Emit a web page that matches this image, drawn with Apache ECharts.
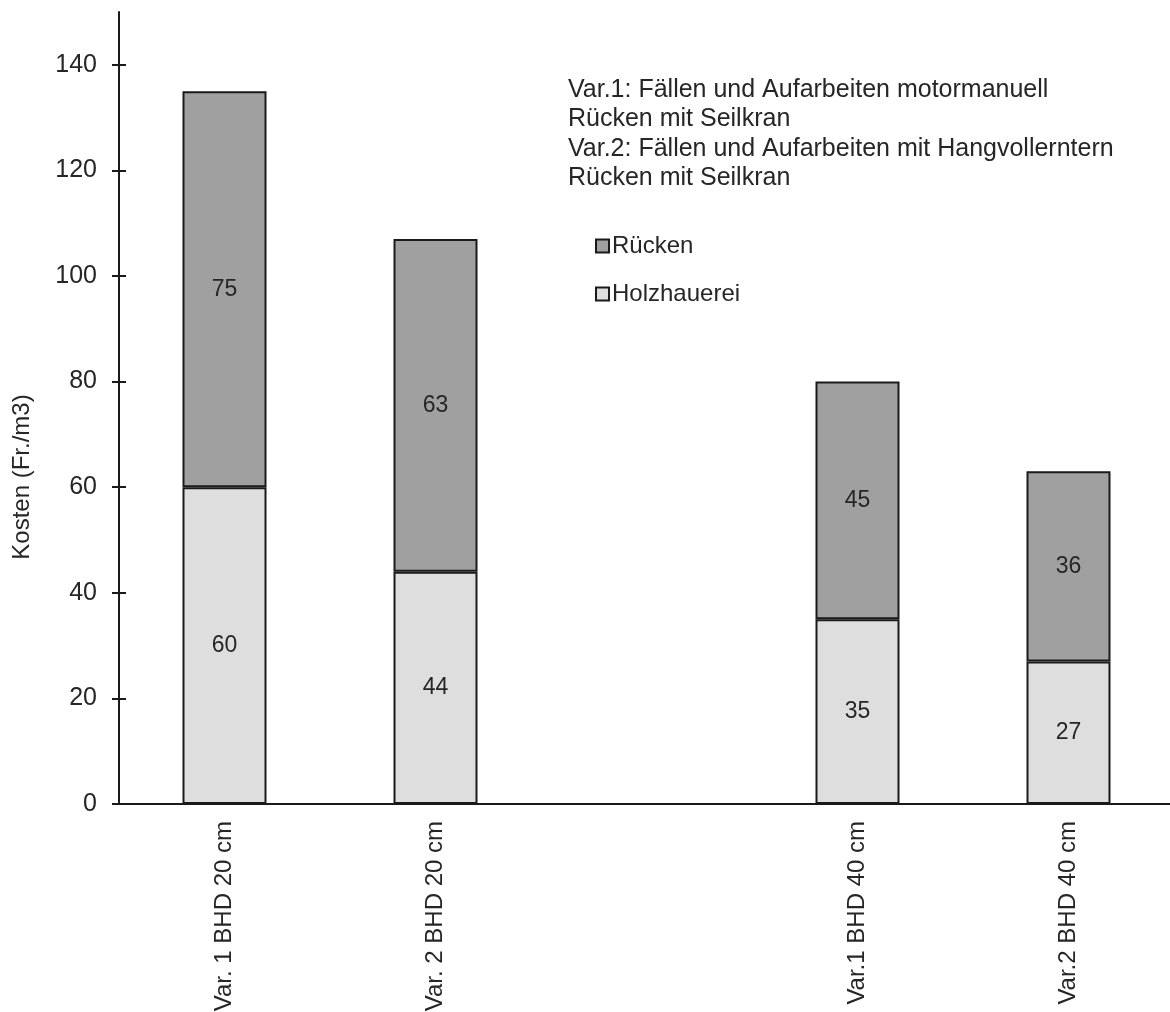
<!DOCTYPE html>
<html>
<head>
<meta charset="utf-8">
<script src="https://cdn.jsdelivr.net/npm/echarts@6/dist/echarts.min.js"></script>
<style>
  html, body { margin: 0; padding: 0; background: #ffffff; }
  #chart { width: 1170px; height: 1012px; }
</style>
</head>
<body>
<div id="chart"></div>
<script>
// Categories (the empty slot separates the 20 cm and 40 cm groups)
const categories = ['Var. 1 BHD 20 cm', 'Var. 2 BHD 20 cm', '', 'Var.1 BHD 40 cm', 'Var.2 BHD 40 cm'];
// Costs in Fr./m3
const holzhauerei = [60, 44, null, 35, 27];
const ruecken = [75, 63, null, 45, 36];
const yTicks = [0, 20, 40, 60, 80, 100, 120, 140];
const noteLines = [
  'Var.1: Fällen und Aufarbeiten motormanuell',
  'Rücken mit Seilkran',
  'Var.2: Fällen und Aufarbeiten mit Hangvollerntern',
  'Rücken mit Seilkran'
];

const FONT = '"Liberation Sans", Arial, sans-serif';
const INK = '#262626';

const chart = echarts.init(document.getElementById('chart'), null, { renderer: 'canvas' });

const barLabel = {
  show: true,
  position: 'inside',
  fontFamily: FONT,
  fontSize: 23,
  color: INK,
  formatter: p => p.value
};

chart.setOption({
  animation: false,
  backgroundColor: '#ffffff',
  grid: { left: 119, right: -4, top: 12, bottom: 208, containLabel: false, outerBoundsMode: 'none' },
  legend: {
    orient: 'vertical',
    left: 590,
    top: 229,
    itemWidth: 13,
    itemHeight: 13,
    itemGap: 24,
    icon: 'rect',
    selectedMode: false,
    textStyle: { fontFamily: FONT, fontSize: 24, color: INK, padding: [0, 0, 0, -2] },
    data: [
      { name: 'Rücken', itemStyle: { color: '#a0a0a0', borderColor: '#1a1a1a', borderWidth: 2 } },
      { name: 'Holzhauerei', itemStyle: { color: '#dedede', borderColor: '#1a1a1a', borderWidth: 2 } }
    ]
  },
  xAxis: {
    type: 'category',
    data: categories,
    axisLine: { show: true, onZero: false, lineStyle: { color: '#1a1a1a', width: 2 } },
    axisTick: { show: false },
    axisLabel: {
      rotate: 90,
      interval: 0,
      margin: 17,
      fontFamily: FONT,
      fontSize: 24,
      color: INK
    },
    splitLine: { show: false }
  },
  yAxis: [
    {
      type: 'value',
      min: 0,
      max: 150,
      interval: 20,
      axisLine: { show: true, lineStyle: { color: '#1a1a1a', width: 2 } },
      axisTick: { show: true, length: 7, customValues: yTicks, lineStyle: { color: '#1a1a1a', width: 2 } },
      axisLabel: {
        customValues: yTicks,
        margin: 22,
        fontFamily: FONT,
        fontSize: 25,
        color: INK
      },
      splitLine: { show: false }
    },
    {
      // inner half of the crossing tick marks
      type: 'value',
      position: 'left',
      min: 0,
      max: 150,
      interval: 20,
      axisLine: { show: false },
      axisTick: { show: true, inside: true, length: 7, customValues: yTicks, lineStyle: { color: '#1a1a1a', width: 2 } },
      axisLabel: { show: false },
      splitLine: { show: false }
    }
  ],
  graphic: [
    {
      type: 'text',
      left: 568,
      top: 75,
      style: {
        text: noteLines.join('\n'),
        fontFamily: FONT,
        fontSize: 25,
        lineHeight: 29.5,
        fill: INK
      }
    },
    {
      type: 'text',
      x: 22,
      y: 477,
      rotation: Math.PI / 2,
      style: {
        text: 'Kosten (Fr./m3)',
        fontFamily: FONT,
        fontSize: 24,
        fill: INK,
        align: 'center',
        verticalAlign: 'middle'
      }
    }
  ],
  series: [
    {
      name: 'Holzhauerei',
      type: 'bar',
      stack: 'kosten',
      barWidth: 84,
      data: holzhauerei,
      itemStyle: { color: '#dedede', borderColor: '#1a1a1a', borderWidth: 2 },
      label: barLabel
    },
    {
      name: 'Rücken',
      type: 'bar',
      stack: 'kosten',
      barWidth: 84,
      data: ruecken,
      itemStyle: { color: '#a0a0a0', borderColor: '#1a1a1a', borderWidth: 2 },
      label: barLabel
    }
  ]
});
</script>
</body>
</html>
